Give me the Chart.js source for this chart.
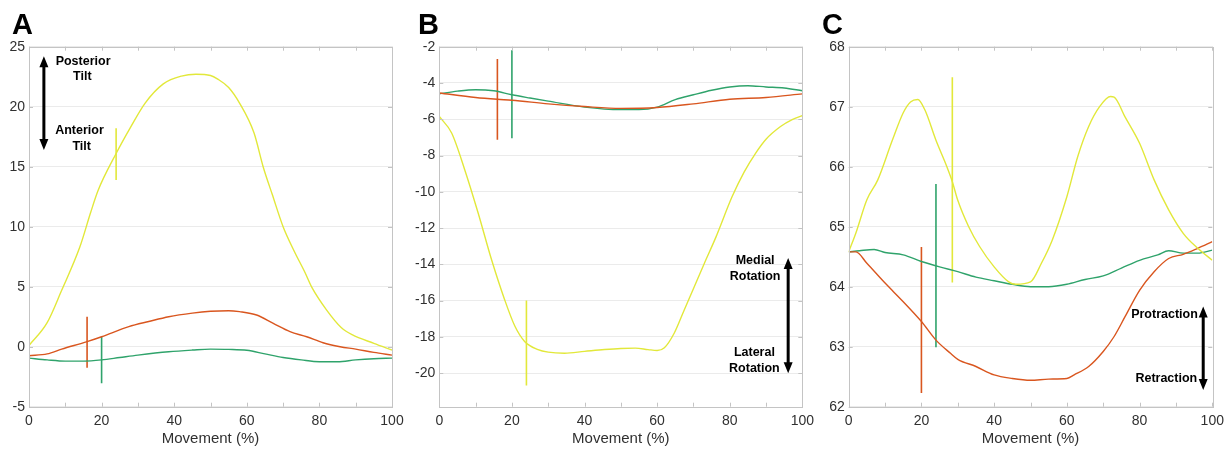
<!DOCTYPE html>
<html>
<head>
<meta charset="utf-8">
<script src="https://cdn.jsdelivr.net/npm/chart.js@4.4.1/dist/chart.umd.min.js"></script>
<style>
  html, body { margin: 0; padding: 0; background: #fff; }
  #wrap { position: relative; width: 1230px; height: 449px; overflow: hidden; }
  .panel { position: absolute; top: 0; width: 410px; height: 449px; }
  .letter { position: absolute; top: 10px; font: bold 29px "Liberation Sans", Arial, sans-serif; line-height: 29px; color: #000; }
</style>
</head>
<body>
<div id="wrap">
  <div class="panel" style="left:0px"><canvas id="chartA" width="410" height="449"></canvas></div>
  <div class="panel" style="left:410px"><canvas id="chartB" width="410" height="449"></canvas></div>
  <div class="panel" style="left:820px"><canvas id="chartC" width="410" height="449"></canvas></div>
  <div class="letter" style="left:12px">A</div>
  <div class="letter" style="left:418px">B</div>
  <div class="letter" style="left:822px">C</div>
</div>
<script>
// ---- Panel A: tilt ----
const xA_yellow = [0, 5, 9, 14, 17, 19, 24, 28, 32, 37, 42, 46, 50, 52, 55, 58, 62, 64.5, 67, 70, 73, 76, 78, 82, 86, 89, 95, 100];
const yA_yellow = [0.1, 2.0, 4.7, 8.3, 11.2, 13.0, 16.1, 18.3, 20.3, 21.9, 22.55, 22.7, 22.6, 22.3, 21.6, 20.3, 17.8, 15.0, 12.7, 10.0, 8.0, 6.2, 4.9, 3.05, 1.6, 1.0, 0.28, -0.28];
const xA_orange = [0, 5, 9, 16, 20, 27.5, 33, 38.5, 45, 50, 55, 58, 62.7, 67.3, 71.9, 76.5, 81, 85.7, 90, 95, 100];
const yA_orange = [-0.75, -0.6, -0.2, 0.42, 0.83, 1.67, 2.1, 2.5, 2.8, 2.95, 3.0, 2.92, 2.64, 1.94, 1.25, 0.83, 0.33, 0.0, -0.2, -0.47, -0.7];
const xA_green = [0, 5, 10, 15, 20, 25, 30, 38.5, 45, 50, 55, 60, 65, 70, 75, 80, 85, 90, 95, 100];
const yA_green = [-0.95, -1.1, -1.2, -1.2, -1.1, -0.9, -0.7, -0.42, -0.28, -0.2, -0.22, -0.3, -0.6, -0.9, -1.1, -1.25, -1.25, -1.1, -1.0, -0.95];
// markers: [x, bottom, top]
const markA_yellow = [24, 13.9, 18.2];
const markA_orange = [16, -1.75, 2.5];
const markA_green = [20, -3.05, 0.85];

// ---- Panel B: rotation ----
const xB_yellow = [0, 3.4, 7, 10.7, 14.4, 18, 20.8, 23.5, 27.2, 30, 34.5, 40, 45.5, 50, 54, 57.5, 60, 62, 64.7, 67.5, 70, 73, 76.2, 80.7, 84, 87.2, 90, 94, 97.2, 100];
const yB_yellow = [-5.85, -6.76, -8.78, -11.17, -13.75, -15.95, -17.4, -18.25, -18.7, -18.84, -18.9, -18.8, -18.7, -18.64, -18.62, -18.7, -18.75, -18.6, -17.8, -16.5, -15.35, -13.95, -12.5, -10.25, -8.9, -7.85, -7.1, -6.4, -6.02, -5.8];
const xB_orange = [0, 10, 16, 20, 30, 40, 50, 60, 70, 80, 90, 100];
const yB_orange = [-4.55, -4.8, -4.9, -4.95, -5.15, -5.3, -5.4, -5.35, -5.15, -4.9, -4.8, -4.6];
const xB_green = [0, 5, 10, 15, 20, 25, 30, 40, 50, 55, 60, 65, 70, 75, 80, 85, 90, 95, 100];
const yB_green = [-4.6, -4.45, -4.37, -4.43, -4.65, -4.83, -5.0, -5.33, -5.47, -5.47, -5.33, -4.92, -4.65, -4.4, -4.22, -4.15, -4.22, -4.28, -4.43];
const markB_yellow = [24, -20.68, -16.0];
const markB_orange = [16, -7.13, -2.68];
const markB_green = [20, -7.05, -2.2];

// ---- Panel C: protraction ----
const xC_yellow = [0, 2, 5, 8, 12, 15, 17, 19, 21, 24, 27, 28.5, 30, 33, 36, 40, 44, 46, 50, 53, 56, 60, 63, 66, 69, 72, 73, 76, 80, 84, 88, 92, 96, 100];
const yC_yellow = [64.58, 64.9, 65.45, 65.78, 66.44, 66.9, 67.08, 67.12, 66.94, 66.44, 66.0, 65.75, 65.44, 65.0, 64.67, 64.33, 64.08, 64.04, 64.08, 64.39, 64.78, 65.5, 66.17, 66.67, 67.0, 67.17, 67.16, 66.83, 66.39, 65.78, 65.28, 64.89, 64.64, 64.44];
const xC_orange = [0, 2, 5, 10, 15, 20, 24, 28, 30, 35, 40, 45, 50, 55, 60, 62, 66, 70, 73, 76, 80, 84, 88, 92, 96, 100];
const yC_orange = [64.58, 64.58, 64.39, 64.06, 63.75, 63.42, 63.11, 62.89, 62.79, 62.67, 62.53, 62.47, 62.44, 62.46, 62.47, 62.53, 62.67, 62.92, 63.17, 63.5, 63.94, 64.25, 64.47, 64.54, 64.64, 64.75];
const xC_green = [0, 3, 7, 10, 15, 20, 25, 30, 35, 40, 45, 50, 55, 60, 65, 70, 75, 80, 85, 88, 92, 96, 100];
const yC_green = [64.58, 64.6, 64.62, 64.57, 64.53, 64.42, 64.33, 64.25, 64.16, 64.1, 64.04, 64.0, 64.0, 64.04, 64.12, 64.18, 64.31, 64.44, 64.53, 64.6, 64.56, 64.56, 64.61];
const markC_yellow = [28.5, 64.07, 67.49];
const markC_orange = [20, 62.23, 64.66];
const markC_green = [24, 62.99, 65.71];

const xTicks = [0, 20, 40, 60, 80, 100];
const xTitle = 'Movement (%)';

const YELLOW = '#e2e83a';
const ORANGE = '#d9561f';
const GREEN = '#2fa36b';
const FONT = '"Liberation Sans", Arial, sans-serif';

const toPts = (xs, ys) => xs.map((x, i) => ({ x: x, y: ys[i] }));

function lineSet(xs, ys, color) {
    return { data: toPts(xs, ys), borderColor: color, borderWidth: 1.4, pointRadius: 0,
             cubicInterpolationMode: 'monotone', fill: false };
}
function markSet(m, color) {
    return { data: [{ x: m[0], y: m[1] }, { x: m[0], y: m[2] }], borderColor: color,
             borderWidth: 1.6, pointRadius: 0, tension: 0, fill: false };
}

// Frame, inward ticks, arrows and labels
const decoPlugin = {
    id: 'deco',
    afterDraw(chart, args, opts) {
        const ctx = chart.ctx;
        const a = chart.chartArea;
        const xs = chart.scales.x, ys = chart.scales.y;
        ctx.save();
        ctx.strokeStyle = '#c4c4c4';
        ctx.lineWidth = 1;
        ctx.beginPath();
        for (let v = 0; v <= 100; v += 10) {
            const px = Math.round(xs.getPixelForValue(v)) + 0.5;
            ctx.moveTo(px, a.top); ctx.lineTo(px, a.top + 4);
            ctx.moveTo(px, a.bottom); ctx.lineTo(px, a.bottom - 4);
        }
        ys.ticks.forEach(t => {
            const py = Math.round(ys.getPixelForValue(t.value)) + 0.5;
            ctx.moveTo(a.left, py); ctx.lineTo(a.left + 4, py);
            ctx.moveTo(a.right, py); ctx.lineTo(a.right - 4, py);
        });
        ctx.stroke();
        ctx.strokeRect(Math.round(a.left) + 0.5, Math.round(a.top) + 0.5,
                       Math.round(a.right - a.left), Math.round(a.bottom - a.top));

        // double arrow
        const ar = opts.arrow;
        const ax = xs.getPixelForValue(ar.x);
        const y1 = ys.getPixelForValue(ar.top), y2 = ys.getPixelForValue(ar.bottom);
        ctx.fillStyle = '#000';
        ctx.strokeStyle = '#000';
        ctx.lineWidth = 3;
        ctx.beginPath();
        ctx.moveTo(ax, y1 + 8); ctx.lineTo(ax, y2 - 8);
        ctx.stroke();
        ctx.beginPath();
        ctx.moveTo(ax, y1); ctx.lineTo(ax - 4.5, y1 + 11); ctx.lineTo(ax + 4.5, y1 + 11); ctx.closePath();
        ctx.moveTo(ax, y2); ctx.lineTo(ax - 4.5, y2 - 11); ctx.lineTo(ax + 4.5, y2 - 11); ctx.closePath();
        ctx.fill();

        ctx.font = 'bold 12.5px ' + FONT;
        ctx.textAlign = 'center';
        ctx.textBaseline = 'middle';
        opts.labels.forEach(l => {
            ctx.fillText(l.text, xs.getPixelForValue(l.x), ys.getPixelForValue(l.y));
        });
        ctx.restore();
    }
};

function makeChart(id, datasets, yCfg, plotLeft, padRight, deco) {
    const y = {
        type: 'linear', min: yCfg.min, max: yCfg.max,
        grid: { color: '#ebebeb', drawTicks: false },
        border: { display: false },
        ticks: { color: '#303030', padding: 4, font: { family: FONT, size: 14 } },
        afterFit: s => { s.width = plotLeft; }
    };
    if (yCfg.step) y.ticks.stepSize = yCfg.step;
    if (yCfg.list) y.afterBuildTicks = s => { s.ticks = yCfg.list.map(v => ({ value: v })); };
    return new Chart(document.getElementById(id), {
        type: 'line',
        data: { datasets: datasets },
        options: {
            responsive: false,
            animation: false,
            devicePixelRatio: 1,
            layout: { padding: { left: 0, right: padRight, top: 46.7, bottom: 0 } },
            plugins: { legend: { display: false }, tooltip: { enabled: false }, deco: deco },
            scales: {
                x: {
                    type: 'linear', min: 0, max: 100,
                    grid: { display: false, drawTicks: false, tickLength: 0 },
                    border: { display: false },
                    afterBuildTicks: s => { s.ticks = xTicks.map(v => ({ value: v })); },
                    ticks: { color: '#303030', padding: 6, maxRotation: 0, autoSkip: false,
                             font: { family: FONT, size: 14 } },
                    title: { display: true, text: xTitle, color: '#303030', padding: { top: 0, bottom: 1 },
                             font: { family: FONT, size: 15 } },
                    afterFit: s => { s.height = 42.3; }
                },
                y: y
            }
        },
        plugins: [decoPlugin]
    });
}

makeChart('chartA', [
    lineSet(xA_yellow, yA_yellow, YELLOW),
    lineSet(xA_orange, yA_orange, ORANGE),
    lineSet(xA_green, yA_green, GREEN),
    markSet(markA_yellow, YELLOW),
    markSet(markA_orange, ORANGE),
    markSet(markA_green, GREEN)
], { min: -5, max: 25, step: 5 }, 29, 18, {
    arrow: { x: 4.1, top: 24.2, bottom: 16.4 },
    labels: [
        { text: 'Posterior', x: 14.9, y: 23.75 },
        { text: 'Tilt', x: 14.7, y: 22.55 },
        { text: 'Anterior', x: 13.9, y: 18.0 },
        { text: 'Tilt', x: 14.5, y: 16.65 }
    ]
});

makeChart('chartB', [
    lineSet(xB_yellow, yB_yellow, YELLOW),
    lineSet(xB_orange, yB_orange, ORANGE),
    lineSet(xB_green, yB_green, GREEN),
    markSet(markB_yellow, YELLOW),
    markSet(markB_orange, ORANGE),
    markSet(markB_green, GREEN)
], { min: -21.85, max: -2, list: [-20, -18, -16, -14, -12, -10, -8, -6, -4, -2] }, 29.3, 16.7, {
    arrow: { x: 96.1, top: -13.65, bottom: -20.0 },
    labels: [
        { text: 'Medial', x: 87.0, y: -13.8 },
        { text: 'Rotation', x: 87.0, y: -14.69 },
        { text: 'Lateral', x: 86.8, y: -18.86 },
        { text: 'Rotation', x: 86.8, y: -19.72 }
    ]
});

makeChart('chartC', [
    lineSet(xC_yellow, yC_yellow, YELLOW),
    lineSet(xC_orange, yC_orange, ORANGE),
    lineSet(xC_green, yC_green, GREEN),
    markSet(markC_yellow, YELLOW),
    markSet(markC_orange, ORANGE),
    markSet(markC_green, GREEN)
], { min: 62, max: 68, step: 1 }, 28.7, 17.7, {
    arrow: { x: 97.5, top: 63.67, bottom: 62.28 },
    labels: [
        { text: 'Protraction', x: 86.85, y: 63.53 },
        { text: 'Retraction', x: 87.35, y: 62.47 }
    ]
});
</script>
</body>
</html>
